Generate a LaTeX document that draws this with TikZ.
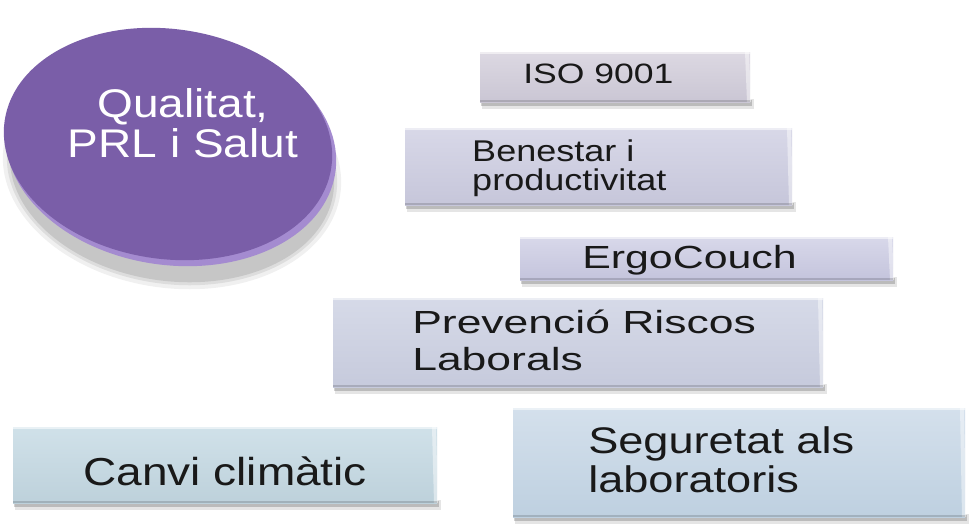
\documentclass[tikz,border=0pt]{standalone}
\usepackage{fontspec}
\setmainfont{Liberation Sans}
\usetikzlibrary{shapes.geometric}
\definecolor{discc}{HTML}{7A5EA8}
\definecolor{discrim}{HTML}{A48BD0}
\definecolor{isoT}{HTML}{DCD8E2}\definecolor{isoB}{HTML}{CAC6D4}
\definecolor{benT}{HTML}{D8D8E8}\definecolor{benB}{HTML}{C6C6DA}
\definecolor{ergT}{HTML}{D8D8EA}\definecolor{ergB}{HTML}{C4C4DC}
\definecolor{prlT}{HTML}{D6DAE8}\definecolor{prlB}{HTML}{C6CADC}
\definecolor{canT}{HTML}{D0E1E9}\definecolor{canB}{HTML}{BDD1DB}
\definecolor{segT}{HTML}{D4E0EC}\definecolor{segB}{HTML}{BED0E0}
\begin{document}
\begin{tikzpicture}[x=1pt,y=-1pt,
  plate/.style={rectangle, inner sep=0pt, outer sep=0pt, anchor=north west},
  lbl/.style={anchor=base west, inner sep=0pt, align=left, transform shape, text=black!90},
]
\useasboundingbox (0,0) rectangle (971,523);
\fill[white] (0,0) rectangle (971,523);

% ---------- disc ----------
\foreach \o/\r in {0.06/10,0.08/6,0.10/3}{
  \fill[black, opacity=\o] (172,170) ellipse [x radius={160pt+\r pt}, y radius={108pt+\r pt}, rotate=-8];
}
\node[ellipse, minimum width=332pt, minimum height=232pt, rotate=-8, fill=discrim, inner sep=0pt] (rim) at (171,149) {};
\node[ellipse, minimum width=330pt, minimum height=230pt, rotate=-8, fill=discc, inner sep=0pt] (disc) at (168,144) {};
\node[align=center, text=white, font=\fontsize{40}{40}\selectfont, xscale=1.15, transform shape, inner sep=0pt, anchor=base] (title) at (183,157) {Qualitat,\\PRL i Salut};

% ---------- plates ----------
\newcommand{\plate}[7]{% name, L, T, R, B, topcolor, bottomcolor
  \fill[black, opacity=0.10] (#2+2,#5-3) rectangle (#4+4,#5+7);
  \fill[black, opacity=0.18] (#2+1,#5-2) rectangle (#4+2,#5+4);
  \node[plate, minimum width={(#4-#2)*1pt}, minimum height={(#5-#3)*1pt}, top color=#6, bottom color=#7] (#1) at (#2,#3) {};
  \fill[white, opacity=0.55] (#2,#3) rectangle (#4,#3+2);
  \fill[white, opacity=0.45] (#4-5,#3) -- (#4-1,#3) -- (#4+1,#5) -- (#4-3,#5) -- cycle;
  \fill[black, opacity=0.15] (#2,#5-2) rectangle (#4,#5);
}
\plate{iso}{480}{52}{750}{102}{isoT}{isoB}
\plate{ben}{405}{128}{792}{205}{benT}{benB}
\plate{ergo}{520}{237}{893}{280}{ergT}{ergB}
\plate{prl}{333}{298}{823}{387}{prlT}{prlB}
\plate{canvi}{13}{427}{437}{503}{canT}{canB}
\plate{seg}{513}{408}{965}{517}{segT}{segB}

% ---------- labels ----------
\node[lbl, xscale=1.27, font=\fontsize{28}{28}\selectfont] (tiso) at (523,83) {ISO 9001};
\node[lbl, xscale=1.2, font=\fontsize{30}{29}\selectfont] (tben) at (472,190) {Benestar i\\productivitat};
\node[lbl, xscale=1.34, font=\fontsize{32}{32}\selectfont] (tergo) at (582,268) {ErgoCouch};
\node[lbl, xscale=1.39, font=\fontsize{32}{37}\selectfont] (tprl) at (412,370) {Prevenció Riscos\\Laborals};
\node[lbl, xscale=1.18, font=\fontsize{39}{39}\selectfont] (tcanvi) at (83,485) {Canvi climàtic};
\node[lbl, xscale=1.22, font=\fontsize{37}{39}\selectfont] (tseg) at (588,492) {Seguretat als\\laboratoris};
\end{tikzpicture}
\end{document}
